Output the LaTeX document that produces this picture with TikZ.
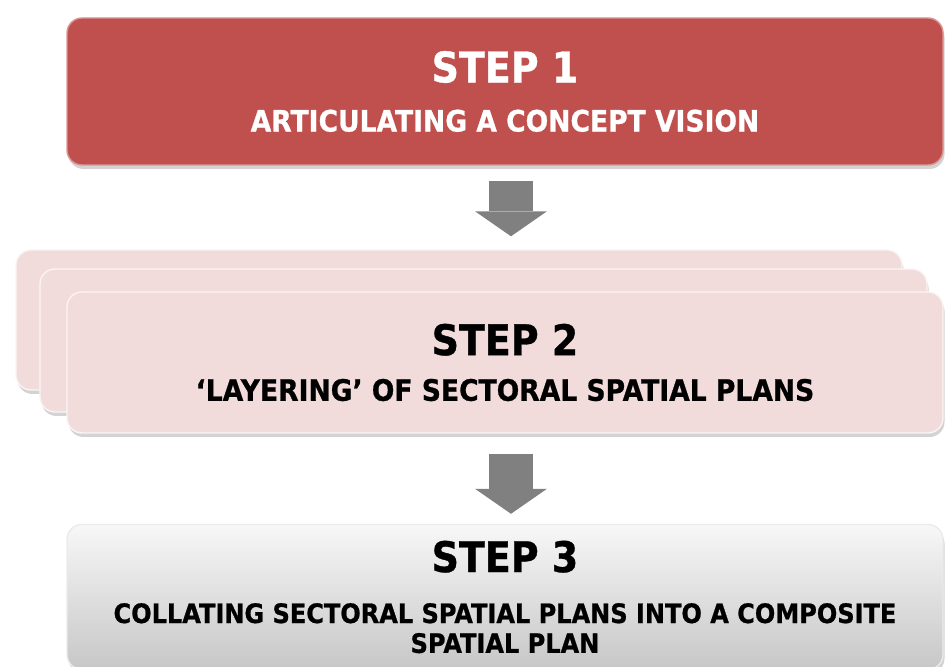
\documentclass[tikz,border=0pt]{standalone}
\usepackage{fontspec}
\setmainfont{DejaVu Sans}[FakeStretch=0.9, BoldFeatures={FakeBold=0.8}]
\usetikzlibrary{arrows.meta,shadows}

\definecolor{stepred}{HTML}{C0504D}
\definecolor{steppink}{HTML}{F2DCDB}
\definecolor{arrowgray}{HTML}{808080}

\tikzset{
    stepbox/.style={rectangle, rounded corners=0.3cm, inner sep=0pt, align=center,
        font=\bfseries\fontsize{16.8pt}{20pt}\selectfont,
        drop shadow={shadow xshift=0.03cm, shadow yshift=-0.08cm, opacity=0.35}},
    blockarrow/.style={draw=arrowgray, line width=0.88cm,
        -{Triangle[width=1.44cm, length=0.5cm, line width=0pt]}}
}

\begin{document}
\begin{tikzpicture}
    \useasboundingbox (0,0) rectangle (18.9,13.34);

    % Step 1
    \node(101) at (10.10,11.51) [stepbox, fill=stepred, draw=stepred!60!white, line width=0.8pt,
        text=white, minimum width=17.52cm, minimum height=2.94cm]
        {{\fontsize{24pt}{24pt}\selectfont STEP 1}\\[8pt]ARTICULATING A CONCEPT VISION};

    % Step 2 (layers)
    \node(201) at (9.18,6.94) [stepbox, fill=steppink, draw=white!70!steppink, line width=0.8pt,
        minimum width=17.72cm, minimum height=2.80cm] {};
    \node(202) at (9.67,6.53) [stepbox, fill=steppink, draw=white!70!steppink, line width=0.8pt,
        minimum width=17.74cm, minimum height=2.86cm] {};
    \node(203) at (10.10,6.09) [stepbox, fill=steppink, draw=white!70!steppink, line width=0.8pt,
        minimum width=17.52cm, minimum height=2.82cm]
        {{\fontsize{24pt}{24pt}\selectfont STEP 2}\\[6pt]`LAYERING' OF SECTORAL SPATIAL PLANS};

    % Step 3
    \node(301) at (10.10,1.40) [stepbox, top color=white!97!black, bottom color=black!22,
        draw=white!92!black, line width=0.8pt, minimum width=17.52cm, minimum height=2.90cm,
        font=\bfseries\fontsize{15.2pt}{17pt}\selectfont]
        {{\fontsize{24pt}{24pt}\selectfont STEP 3}\\[12pt]COLLATING SECTORAL SPATIAL PLANS INTO A COMPOSITE\\SPATIAL PLAN};

    \draw [blockarrow, shorten <=0.3cm, shorten >=0.26cm] ([xshift=0.12cm]101.south) -- ([xshift=0.12cm]101.south |- 201.north);
    \draw [blockarrow, shorten <=0.4cm, shorten >=0.2cm] ([xshift=0.12cm]203.south) -- ([xshift=0.12cm]203.south |- 301.north);
\end{tikzpicture}
\end{document}
